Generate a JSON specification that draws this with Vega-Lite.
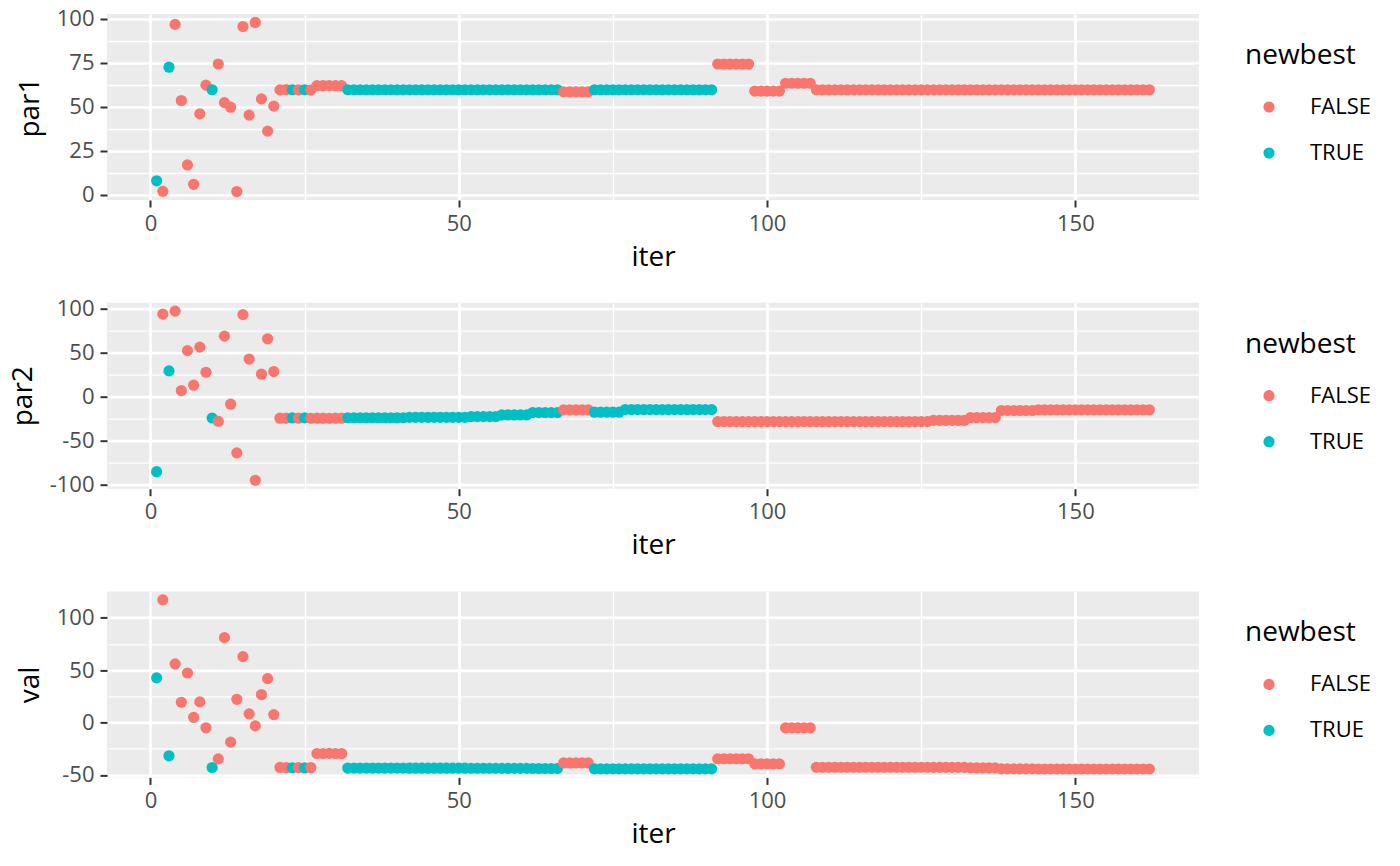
{
  "$schema": "https://vega.github.io/schema/vega-lite/v6.json",
  "padding": {"left": 9, "top": 7, "right": 5, "bottom": 5},
  "background": "#FFFFFF",
  "datasets": {
    "opt": [
      {"iter":1,"par1":8,"par2":-85,"val":42.6,"newbest":"TRUE"},
      {"iter":2,"par1":2,"par2":94,"val":117,"newbest":"FALSE"},
      {"iter":3,"par1":72.5,"par2":29.5,"val":-31.7,"newbest":"TRUE"},
      {"iter":4,"par1":96.8,"par2":97.4,"val":55.9,"newbest":"FALSE"},
      {"iter":5,"par1":53.6,"par2":7.2,"val":19.4,"newbest":"FALSE"},
      {"iter":6,"par1":17,"par2":52.6,"val":47.3,"newbest":"FALSE"},
      {"iter":7,"par1":6,"par2":13.3,"val":5,"newbest":"FALSE"},
      {"iter":8,"par1":46,"par2":56.5,"val":19.7,"newbest":"FALSE"},
      {"iter":9,"par1":62.3,"par2":28,"val":-5,"newbest":"FALSE"},
      {"iter":10,"par1":59.7,"par2":-24,"val":-42.9,"newbest":"TRUE"},
      {"iter":11,"par1":74.3,"par2":-27.7,"val":-34.6,"newbest":"FALSE"},
      {"iter":12,"par1":52.4,"par2":69,"val":81,"newbest":"FALSE"},
      {"iter":13,"par1":49.8,"par2":-8.3,"val":-18.7,"newbest":"FALSE"},
      {"iter":14,"par1":1.9,"par2":-63.6,"val":22.2,"newbest":"FALSE"},
      {"iter":15,"par1":95.6,"par2":93.5,"val":62.9,"newbest":"FALSE"},
      {"iter":16,"par1":45.3,"par2":43,"val":8.3,"newbest":"FALSE"},
      {"iter":17,"par1":97.9,"par2":-94.7,"val":-3.2,"newbest":"FALSE"},
      {"iter":18,"par1":54.5,"par2":25.8,"val":26.7,"newbest":"FALSE"},
      {"iter":19,"par1":36.2,"par2":66,"val":41.9,"newbest":"FALSE"},
      {"iter":20,"par1":50.4,"par2":28.8,"val":7.6,"newbest":"FALSE"},
      {"iter":21,"par1":59.6,"par2":-24.2,"val":-42.8,"newbest":"FALSE"},
      {"iter":22,"par1":59.8,"par2":-24.1,"val":-42.9,"newbest":"FALSE"},
      {"iter":23,"par1":59.7,"par2":-23.9,"val":-43.1,"newbest":"TRUE"},
      {"iter":24,"par1":59.6,"par2":-24.2,"val":-42.9,"newbest":"FALSE"},
      {"iter":25,"par1":59.7,"par2":-23.8,"val":-43.3,"newbest":"TRUE"},
      {"iter":26,"par1":59.5,"par2":-24.3,"val":-42.9,"newbest":"FALSE"},
      {"iter":27,"par1":62,"par2":-24.2,"val":-29.5,"newbest":"FALSE"},
      {"iter":28,"par1":62,"par2":-24.2,"val":-29.5,"newbest":"FALSE"},
      {"iter":29,"par1":62.1,"par2":-24.3,"val":-29.4,"newbest":"FALSE"},
      {"iter":30,"par1":62,"par2":-24.2,"val":-29.5,"newbest":"FALSE"},
      {"iter":31,"par1":62,"par2":-24.2,"val":-29.5,"newbest":"FALSE"},
      {"iter":32,"par1":59.7,"par2":-23.7,"val":-43.4,"newbest":"TRUE"},
      {"iter":33,"par1":59.7,"par2":-23.7,"val":-43.4,"newbest":"TRUE"},
      {"iter":34,"par1":59.7,"par2":-23.7,"val":-43.4,"newbest":"TRUE"},
      {"iter":35,"par1":59.7,"par2":-23.7,"val":-43.4,"newbest":"TRUE"},
      {"iter":36,"par1":59.7,"par2":-23.7,"val":-43.4,"newbest":"TRUE"},
      {"iter":37,"par1":59.7,"par2":-23.7,"val":-43.4,"newbest":"TRUE"},
      {"iter":38,"par1":59.7,"par2":-23.7,"val":-43.4,"newbest":"TRUE"},
      {"iter":39,"par1":59.7,"par2":-23.7,"val":-43.4,"newbest":"TRUE"},
      {"iter":40,"par1":59.7,"par2":-23.7,"val":-43.4,"newbest":"TRUE"},
      {"iter":41,"par1":59.7,"par2":-23.7,"val":-43.4,"newbest":"TRUE"},
      {"iter":42,"par1":59.7,"par2":-23.2,"val":-43.5,"newbest":"TRUE"},
      {"iter":43,"par1":59.7,"par2":-23.2,"val":-43.5,"newbest":"TRUE"},
      {"iter":44,"par1":59.7,"par2":-23.2,"val":-43.5,"newbest":"TRUE"},
      {"iter":45,"par1":59.7,"par2":-23.2,"val":-43.5,"newbest":"TRUE"},
      {"iter":46,"par1":59.7,"par2":-23.2,"val":-43.5,"newbest":"TRUE"},
      {"iter":47,"par1":59.7,"par2":-23.2,"val":-43.5,"newbest":"TRUE"},
      {"iter":48,"par1":59.7,"par2":-23.2,"val":-43.5,"newbest":"TRUE"},
      {"iter":49,"par1":59.7,"par2":-23.2,"val":-43.5,"newbest":"TRUE"},
      {"iter":50,"par1":59.7,"par2":-23.2,"val":-43.5,"newbest":"TRUE"},
      {"iter":51,"par1":59.7,"par2":-23.2,"val":-43.5,"newbest":"TRUE"},
      {"iter":52,"par1":59.7,"par2":-22.4,"val":-43.6,"newbest":"TRUE"},
      {"iter":53,"par1":59.7,"par2":-22.4,"val":-43.6,"newbest":"TRUE"},
      {"iter":54,"par1":59.7,"par2":-22.4,"val":-43.6,"newbest":"TRUE"},
      {"iter":55,"par1":59.7,"par2":-22.4,"val":-43.6,"newbest":"TRUE"},
      {"iter":56,"par1":59.7,"par2":-22.4,"val":-43.6,"newbest":"TRUE"},
      {"iter":57,"par1":59.7,"par2":-20.5,"val":-43.7,"newbest":"TRUE"},
      {"iter":58,"par1":59.7,"par2":-20.5,"val":-43.7,"newbest":"TRUE"},
      {"iter":59,"par1":59.7,"par2":-20.5,"val":-43.7,"newbest":"TRUE"},
      {"iter":60,"par1":59.7,"par2":-20.5,"val":-43.7,"newbest":"TRUE"},
      {"iter":61,"par1":59.7,"par2":-20.5,"val":-43.7,"newbest":"TRUE"},
      {"iter":62,"par1":59.7,"par2":-17.8,"val":-43.8,"newbest":"TRUE"},
      {"iter":63,"par1":59.7,"par2":-17.8,"val":-43.8,"newbest":"TRUE"},
      {"iter":64,"par1":59.7,"par2":-17.8,"val":-43.8,"newbest":"TRUE"},
      {"iter":65,"par1":59.7,"par2":-17.8,"val":-43.8,"newbest":"TRUE"},
      {"iter":66,"par1":59.7,"par2":-17.8,"val":-43.8,"newbest":"TRUE"},
      {"iter":67,"par1":58.5,"par2":-14.8,"val":-38.5,"newbest":"FALSE"},
      {"iter":68,"par1":58.5,"par2":-14.8,"val":-38.5,"newbest":"FALSE"},
      {"iter":69,"par1":58.5,"par2":-14.8,"val":-38.5,"newbest":"FALSE"},
      {"iter":70,"par1":58.5,"par2":-14.8,"val":-38.5,"newbest":"FALSE"},
      {"iter":71,"par1":58.5,"par2":-14.8,"val":-38.5,"newbest":"FALSE"},
      {"iter":72,"par1":59.7,"par2":-17.4,"val":-44.1,"newbest":"TRUE"},
      {"iter":73,"par1":59.7,"par2":-17.4,"val":-44.1,"newbest":"TRUE"},
      {"iter":74,"par1":59.7,"par2":-17.4,"val":-44.1,"newbest":"TRUE"},
      {"iter":75,"par1":59.7,"par2":-17.4,"val":-44.1,"newbest":"TRUE"},
      {"iter":76,"par1":59.7,"par2":-17.4,"val":-44.1,"newbest":"TRUE"},
      {"iter":77,"par1":59.7,"par2":-14.4,"val":-44.2,"newbest":"TRUE"},
      {"iter":78,"par1":59.7,"par2":-14.4,"val":-44.2,"newbest":"TRUE"},
      {"iter":79,"par1":59.7,"par2":-14.4,"val":-44.2,"newbest":"TRUE"},
      {"iter":80,"par1":59.7,"par2":-14.4,"val":-44.2,"newbest":"TRUE"},
      {"iter":81,"par1":59.7,"par2":-14.4,"val":-44.2,"newbest":"TRUE"},
      {"iter":82,"par1":59.7,"par2":-14.4,"val":-44.2,"newbest":"TRUE"},
      {"iter":83,"par1":59.7,"par2":-14.4,"val":-44.2,"newbest":"TRUE"},
      {"iter":84,"par1":59.7,"par2":-14.4,"val":-44.2,"newbest":"TRUE"},
      {"iter":85,"par1":59.7,"par2":-14.4,"val":-44.2,"newbest":"TRUE"},
      {"iter":86,"par1":59.7,"par2":-14.4,"val":-44.2,"newbest":"TRUE"},
      {"iter":87,"par1":59.7,"par2":-14.4,"val":-44.2,"newbest":"TRUE"},
      {"iter":88,"par1":59.7,"par2":-14.4,"val":-44.2,"newbest":"TRUE"},
      {"iter":89,"par1":59.7,"par2":-14.4,"val":-44.2,"newbest":"TRUE"},
      {"iter":90,"par1":59.7,"par2":-14.4,"val":-44.2,"newbest":"TRUE"},
      {"iter":91,"par1":59.7,"par2":-14.4,"val":-44.2,"newbest":"TRUE"},
      {"iter":92,"par1":74.3,"par2":-28,"val":-34.5,"newbest":"FALSE"},
      {"iter":93,"par1":74.3,"par2":-28,"val":-34.5,"newbest":"FALSE"},
      {"iter":94,"par1":74.3,"par2":-28,"val":-34.5,"newbest":"FALSE"},
      {"iter":95,"par1":74.3,"par2":-28,"val":-34.5,"newbest":"FALSE"},
      {"iter":96,"par1":74.3,"par2":-28,"val":-34.5,"newbest":"FALSE"},
      {"iter":97,"par1":74.3,"par2":-28,"val":-34.5,"newbest":"FALSE"},
      {"iter":98,"par1":58.9,"par2":-28,"val":-39.4,"newbest":"FALSE"},
      {"iter":99,"par1":58.9,"par2":-28,"val":-39.4,"newbest":"FALSE"},
      {"iter":100,"par1":58.9,"par2":-28,"val":-39.4,"newbest":"FALSE"},
      {"iter":101,"par1":58.9,"par2":-28,"val":-39.4,"newbest":"FALSE"},
      {"iter":102,"par1":58.9,"par2":-28,"val":-39.4,"newbest":"FALSE"},
      {"iter":103,"par1":63.4,"par2":-28,"val":-5.1,"newbest":"FALSE"},
      {"iter":104,"par1":63.4,"par2":-28,"val":-5.1,"newbest":"FALSE"},
      {"iter":105,"par1":63.4,"par2":-28,"val":-5.1,"newbest":"FALSE"},
      {"iter":106,"par1":63.4,"par2":-28,"val":-5.1,"newbest":"FALSE"},
      {"iter":107,"par1":63.4,"par2":-28,"val":-5.1,"newbest":"FALSE"},
      {"iter":108,"par1":59.7,"par2":-28,"val":-42.6,"newbest":"FALSE"},
      {"iter":109,"par1":59.7,"par2":-28,"val":-42.6,"newbest":"FALSE"},
      {"iter":110,"par1":59.7,"par2":-28,"val":-42.6,"newbest":"FALSE"},
      {"iter":111,"par1":59.7,"par2":-28,"val":-42.6,"newbest":"FALSE"},
      {"iter":112,"par1":59.7,"par2":-28,"val":-42.6,"newbest":"FALSE"},
      {"iter":113,"par1":59.7,"par2":-28,"val":-42.6,"newbest":"FALSE"},
      {"iter":114,"par1":59.7,"par2":-28,"val":-42.6,"newbest":"FALSE"},
      {"iter":115,"par1":59.7,"par2":-28,"val":-42.6,"newbest":"FALSE"},
      {"iter":116,"par1":59.7,"par2":-28,"val":-42.6,"newbest":"FALSE"},
      {"iter":117,"par1":59.7,"par2":-28,"val":-42.6,"newbest":"FALSE"},
      {"iter":118,"par1":59.7,"par2":-28,"val":-42.6,"newbest":"FALSE"},
      {"iter":119,"par1":59.7,"par2":-28,"val":-42.6,"newbest":"FALSE"},
      {"iter":120,"par1":59.7,"par2":-28,"val":-42.6,"newbest":"FALSE"},
      {"iter":121,"par1":59.7,"par2":-28,"val":-42.6,"newbest":"FALSE"},
      {"iter":122,"par1":59.7,"par2":-28,"val":-42.6,"newbest":"FALSE"},
      {"iter":123,"par1":59.7,"par2":-28,"val":-42.6,"newbest":"FALSE"},
      {"iter":124,"par1":59.7,"par2":-28,"val":-42.6,"newbest":"FALSE"},
      {"iter":125,"par1":59.7,"par2":-28,"val":-42.6,"newbest":"FALSE"},
      {"iter":126,"par1":59.7,"par2":-28,"val":-42.6,"newbest":"FALSE"},
      {"iter":127,"par1":59.7,"par2":-26.6,"val":-42.7,"newbest":"FALSE"},
      {"iter":128,"par1":59.7,"par2":-26.6,"val":-42.7,"newbest":"FALSE"},
      {"iter":129,"par1":59.7,"par2":-26.6,"val":-42.7,"newbest":"FALSE"},
      {"iter":130,"par1":59.7,"par2":-26.6,"val":-42.7,"newbest":"FALSE"},
      {"iter":131,"par1":59.7,"par2":-26.6,"val":-42.7,"newbest":"FALSE"},
      {"iter":132,"par1":59.7,"par2":-26.6,"val":-42.7,"newbest":"FALSE"},
      {"iter":133,"par1":59.7,"par2":-23.5,"val":-43.2,"newbest":"FALSE"},
      {"iter":134,"par1":59.7,"par2":-23.5,"val":-43.2,"newbest":"FALSE"},
      {"iter":135,"par1":59.7,"par2":-23.5,"val":-43.2,"newbest":"FALSE"},
      {"iter":136,"par1":59.7,"par2":-23.5,"val":-43.2,"newbest":"FALSE"},
      {"iter":137,"par1":59.7,"par2":-23.5,"val":-43.2,"newbest":"FALSE"},
      {"iter":138,"par1":59.7,"par2":-15.5,"val":-44.2,"newbest":"FALSE"},
      {"iter":139,"par1":59.7,"par2":-15.5,"val":-44.2,"newbest":"FALSE"},
      {"iter":140,"par1":59.7,"par2":-15.5,"val":-44.2,"newbest":"FALSE"},
      {"iter":141,"par1":59.7,"par2":-15.5,"val":-44.2,"newbest":"FALSE"},
      {"iter":142,"par1":59.7,"par2":-15.5,"val":-44.2,"newbest":"FALSE"},
      {"iter":143,"par1":59.7,"par2":-15.5,"val":-44.2,"newbest":"FALSE"},
      {"iter":144,"par1":59.7,"par2":-14.6,"val":-44.3,"newbest":"FALSE"},
      {"iter":145,"par1":59.7,"par2":-14.6,"val":-44.3,"newbest":"FALSE"},
      {"iter":146,"par1":59.7,"par2":-14.6,"val":-44.3,"newbest":"FALSE"},
      {"iter":147,"par1":59.7,"par2":-14.6,"val":-44.3,"newbest":"FALSE"},
      {"iter":148,"par1":59.7,"par2":-14.6,"val":-44.3,"newbest":"FALSE"},
      {"iter":149,"par1":59.7,"par2":-14.6,"val":-44.3,"newbest":"FALSE"},
      {"iter":150,"par1":59.7,"par2":-14.6,"val":-44.3,"newbest":"FALSE"},
      {"iter":151,"par1":59.7,"par2":-14.6,"val":-44.3,"newbest":"FALSE"},
      {"iter":152,"par1":59.7,"par2":-14.6,"val":-44.3,"newbest":"FALSE"},
      {"iter":153,"par1":59.7,"par2":-14.6,"val":-44.3,"newbest":"FALSE"},
      {"iter":154,"par1":59.7,"par2":-14.6,"val":-44.3,"newbest":"FALSE"},
      {"iter":155,"par1":59.7,"par2":-14.6,"val":-44.3,"newbest":"FALSE"},
      {"iter":156,"par1":59.7,"par2":-14.6,"val":-44.3,"newbest":"FALSE"},
      {"iter":157,"par1":59.7,"par2":-14.6,"val":-44.3,"newbest":"FALSE"},
      {"iter":158,"par1":59.7,"par2":-14.6,"val":-44.3,"newbest":"FALSE"},
      {"iter":159,"par1":59.7,"par2":-14.6,"val":-44.3,"newbest":"FALSE"},
      {"iter":160,"par1":59.7,"par2":-14.6,"val":-44.3,"newbest":"FALSE"},
      {"iter":161,"par1":59.7,"par2":-14.6,"val":-44.3,"newbest":"FALSE"},
      {"iter":162,"par1":59.7,"par2":-14.6,"val":-44.3,"newbest":"FALSE"}
    ]
  },
  "spacing": 102.7,
  "bounds": "flush",
  "resolve": {"scale": {"color": "independent"}, "legend": {"color": "independent"}},
  "vconcat": [
    {
      "width": 1092,
      "height": 186,
      "data": {"name": "opt"},
      "mark": {"type": "circle", "size": 125, "opacity": 1},
      "encoding": {
        "x": {"field": "iter", "type": "quantitative", "title": "iter",
          "scale": {"domain": [-7.05, 170.05], "nice": false, "zero": false},
          "axis": {"values": [0, 25, 50, 75, 100, 125, 150],
            "labelExpr": "datum.value % 50 === 0 ? replace(datum.label, '−', '-') : ''",
            "gridWidth": {"condition": {"test": "datum.value % 50 === 0", "value": 2.7}, "value": 1.3},
            "tickOpacity": {"condition": {"test": "datum.value % 50 === 0", "value": 1}, "value": 0}}},
        "y": {"field": "par1", "type": "quantitative", "title": "par1",
          "scale": {"domain": [-2.9, 102.7], "nice": false, "zero": false},
          "axis": {"values": [0, 12.5, 25, 37.5, 50, 62.5, 75, 87.5, 100],
            "labelExpr": "datum.value % 25 === 0 ? replace(datum.label, '−', '-') : ''",
            "gridWidth": {"condition": {"test": "datum.value % 25 === 0", "value": 2.7}, "value": 1.3},
            "tickOpacity": {"condition": {"test": "datum.value % 25 === 0", "value": 1}, "value": 0}}},
        "color": {"field": "newbest", "type": "nominal", "title": "newbest",
          "scale": {"domain": ["FALSE", "TRUE"], "range": ["#F8766D", "#00BFC4"]},
          "legend": {"orient": "none", "legendX": 1138, "legendY": 28, "labelOffset": 30, "symbolOffset": 13, "titlePadding": 26, "rowPadding": 24}}
      }
    },
    {
      "width": 1092,
      "height": 186,
      "data": {"name": "opt"},
      "mark": {"type": "circle", "size": 125, "opacity": 1},
      "encoding": {
        "x": {"field": "iter", "type": "quantitative", "title": "iter",
          "scale": {"domain": [-7.05, 170.05], "nice": false, "zero": false},
          "axis": {"values": [0, 25, 50, 75, 100, 125, 150],
            "labelExpr": "datum.value % 50 === 0 ? replace(datum.label, '−', '-') : ''",
            "gridWidth": {"condition": {"test": "datum.value % 50 === 0", "value": 2.7}, "value": 1.3},
            "tickOpacity": {"condition": {"test": "datum.value % 50 === 0", "value": 1}, "value": 0}}},
        "y": {"field": "par2", "type": "quantitative", "title": "par2",
          "scale": {"domain": [-104.3, 107.0], "nice": false, "zero": false},
          "axis": {"values": [-100, -75, -50, -25, 0, 25, 50, 75, 100],
            "labelExpr": "datum.value % 50 === 0 ? replace(datum.label, '−', '-') : ''",
            "gridWidth": {"condition": {"test": "datum.value % 50 === 0", "value": 2.7}, "value": 1.3},
            "tickOpacity": {"condition": {"test": "datum.value % 50 === 0", "value": 1}, "value": 0}}},
        "color": {"field": "newbest", "type": "nominal", "title": "newbest",
          "scale": {"domain": ["FALSE", "TRUE"], "range": ["#F8766D", "#00BFC4"]},
          "legend": {"orient": "none", "legendX": 1138, "legendY": 28, "labelOffset": 30, "symbolOffset": 13, "titlePadding": 26, "rowPadding": 24}}
      }
    },
    {
      "width": 1092,
      "height": 186,
      "data": {"name": "opt"},
      "mark": {"type": "circle", "size": 125, "opacity": 1},
      "encoding": {
        "x": {"field": "iter", "type": "quantitative", "title": "iter",
          "scale": {"domain": [-7.05, 170.05], "nice": false, "zero": false},
          "axis": {"values": [0, 25, 50, 75, 100, 125, 150],
            "labelExpr": "datum.value % 50 === 0 ? replace(datum.label, '−', '-') : ''",
            "gridWidth": {"condition": {"test": "datum.value % 50 === 0", "value": 2.7}, "value": 1.3},
            "tickOpacity": {"condition": {"test": "datum.value % 50 === 0", "value": 1}, "value": 0}}},
        "y": {"field": "val", "type": "quantitative", "title": "val",
          "scale": {"domain": [-52.3, 125.1], "nice": false, "zero": false},
          "axis": {"values": [-50, -25, 0, 25, 50, 75, 100],
            "labelExpr": "datum.value % 50 === 0 ? replace(datum.label, '−', '-') : ''",
            "gridWidth": {"condition": {"test": "datum.value % 50 === 0", "value": 2.7}, "value": 1.3},
            "tickOpacity": {"condition": {"test": "datum.value % 50 === 0", "value": 1}, "value": 0}}},
        "color": {"field": "newbest", "type": "nominal", "title": "newbest",
          "scale": {"domain": ["FALSE", "TRUE"], "range": ["#F8766D", "#00BFC4"]},
          "legend": {"orient": "none", "legendX": 1138, "legendY": 28, "labelOffset": 30, "symbolOffset": 13, "titlePadding": 26, "rowPadding": 24}}
      }
    }
  ],
  "config": {
    "font": "Open Sans",
    "view": {"fill": "#EBEBEB", "stroke": null},
    "axis": {
      "domain": false,
      "grid": true,
      "gridColor": "#FFFFFF",
      "tickColor": "#333333",
      "tickWidth": 2,
      "tickSize": 7,
      "labelPadding": 6,
      "labelFont": "Open Sans",
      "labelFontSize": 22,
      "labelColor": "#4D4D4D",
      "labelOverlap": false,
      "labelFlush": false,
      "titleFont": "Open Sans",
      "titleFontSize": 28,
      "titleFontWeight": "normal",
      "titleColor": "#000000",
      "titlePadding": 9
    },
    "axisY": {"titlePadding": 12},
    "legend": {
      "padding": 0,
      "titleFont": "Open Sans",
      "titleFontSize": 28,
      "titleFontWeight": "normal",
      "titleColor": "#000000",
      "titlePadding": 26,
      "labelFont": "Open Sans",
      "labelFontSize": 22,
      "labelColor": "#000000",
      "labelOffset": 30,
      "symbolType": "circle",
      "symbolSize": 125,
      "symbolOpacity": 1,
      "symbolOffset": 13,
      "rowPadding": 24
    }
  }
}
